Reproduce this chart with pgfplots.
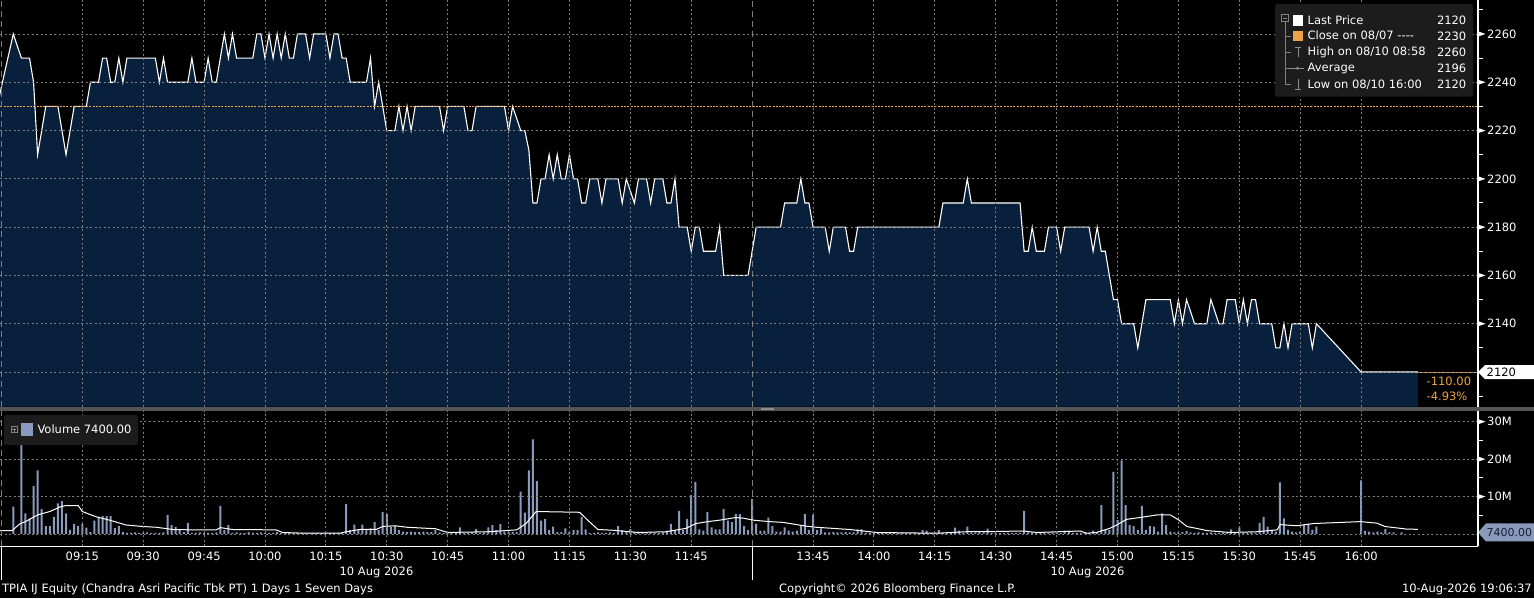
\documentclass[border=0pt]{standalone}
\usepackage{pgfplots}
\usepackage{pgfplotstable}
\pgfplotsset{compat=1.18}
\usepackage{fontspec}
\setmainfont{DejaVu Sans}

\definecolor{bbnavy}{RGB}{9,32,60}
\definecolor{bbgrid}{RGB}{125,125,125}
\definecolor{bbbar}{RGB}{138,154,188}
\definecolor{bborange}{RGB}{240,160,70}
\definecolor{bblegend}{RGB}{28,28,28}
\definecolor{bbsep}{RGB}{85,85,85}
\definecolor{bbdark}{RGB}{20,30,50}

\newcommand{\bbfont}{\fontsize{11.5}{13}\selectfont}
\newcommand{\hy}{-\kern0pt}

% price, one point per minute of trading (afternoon shifted back by the 90 min lunch break)
\pgfplotstableread{
m p
-6 2230
-2 2260
0 2250
2 2250
3 2240
4 2210
6 2230
9 2230
11 2210
13 2230
16 2230
17 2240
19 2240
20 2250
21 2250
22 2240
23 2240
24 2250
25 2240
26 2250
33 2250
34 2240
35 2250
36 2240
41 2240
42 2250
43 2240
45 2240
46 2250
47 2240
48 2240
50 2260
51 2250
52 2260
53 2250
57 2250
58 2260
59 2260
60 2250
61 2260
62 2250
63 2260
64 2250
65 2260
66 2250
67 2250
68 2260
70 2260
71 2250
72 2260
75 2260
76 2250
77 2260
78 2260
79 2250
80 2250
81 2240
85 2240
86 2250
87 2230
88 2240
90 2220
92 2220
93 2230
94 2220
95 2230
96 2220
97 2230
103 2230
104 2220
105 2230
109 2230
110 2220
111 2220
112 2230
119 2230
120 2220
121 2230
123 2220
124 2220
125 2212
126 2190
127 2190
128 2200
129 2200
130 2210
131 2200
132 2210
133 2200
134 2200
135 2210
136 2200
137 2200
138 2190
139 2190
140 2200
142 2200
143 2190
144 2200
147 2200
148 2190
149 2200
151 2190
152 2200
154 2200
155 2190
156 2200
158 2200
159 2190
160 2190
161 2200
162 2180
164 2180
165 2170
166 2180
167 2180
168 2170
171 2170
172 2180
173 2160
179 2160
181 2180
187 2180
188 2190
191 2190
192 2200
193 2190
194 2190
195 2180
198 2180
199 2170
200 2180
203 2180
204 2170
205 2170
206 2180
226 2180
227 2190
232 2190
233 2200
234 2190
246 2190
247 2170
248 2170
249 2180
250 2170
252 2170
253 2180
255 2180
256 2170
257 2180
263 2180
264 2170
265 2180
266 2170
267 2170
269 2150
270 2150
271 2140
274 2140
275 2130
277 2150
283 2150
284 2140
285 2150
286 2140
287 2150
289 2140
292 2140
293 2150
295 2140
296 2140
297 2150
299 2150
300 2140
301 2150
302 2140
303 2150
304 2150
305 2140
308 2140
309 2130
310 2130
311 2140
312 2130
313 2140
317 2140
318 2130
319 2140
330 2120
344 2120
}\pricedata

% volume per minute, millions
\pgfplotstableread{
m v
-2 7.3
0 30.0
1 5.5
2 4.2
3 12.8
4 17.0
5 6.7
6 2.1
7 2.1
8 4.6
9 8.2
10 8.8
11 5.5
12 1.1
13 2.7
14 2.1
15 2.7
16 1.7
17 0.5
18 3.6
19 4.6
20 4.8
21 4.8
22 4.8
23 1.6
24 2.1
25 0.5
26 0.3
27 0.3
28 0.4
29 0.3
30 0.3
31 0.4
32 0.3
33 0.3
34 0.3
35 0.4
36 5.1
37 2.4
38 1.9
39 1.0
40 0.5
41 3.0
42 0.3
43 0.3
44 0.4
45 0.3
46 0.3
47 0.3
48 0.4
49 7.5
50 1.0
51 2.4
52 0.3
53 0.4
54 0.3
55 0.3
56 0.5
57 0.3
58 0.3
59 0.4
60 0.3
61 0.3
62 0.3
63 0.5
64 0.3
65 0.2
66 0.3
67 0.3
68 0.2
69 0.3
70 0.2
71 0.2
72 0.3
73 0.2
74 0.2
75 0.3
76 0.2
77 0.3
78 0.3
79 0.3
80 8.0
81 1.0
82 2.5
83 1.0
84 2.5
85 1.0
86 1.5
87 3.2
88 1.0
89 5.9
90 5.4
91 1.9
92 2.2
93 1.0
94 0.6
95 0.5
96 0.6
97 0.5
98 0.5
99 0.6
100 0.5
101 0.5
102 1.0
103 0.4
104 0.3
105 0.3
106 0.3
107 0.4
108 1.8
109 0.3
110 0.3
111 0.4
112 1.3
113 0.3
114 0.4
115 1.8
116 2.4
117 1.0
118 2.7
119 0.6
120 0.5
121 0.5
122 0.5
123 11.3
124 5.7
125 17.0
126 25.3
127 14.1
128 3.6
129 4.0
130 1.0
131 2.0
132 0.5
133 0.5
134 1.5
135 0.5
136 1.0
137 1.0
138 4.6
139 1.2
140 0.3
141 0.3
142 0.4
143 0.3
144 0.3
145 0.4
146 0.3
147 2.1
148 1.0
149 0.6
150 1.3
151 0.5
152 0.3
153 0.3
154 0.3
155 0.4
156 0.3
157 0.3
158 0.4
159 0.9
160 2.7
161 1.0
162 6.2
163 1.0
164 4.0
165 10.4
166 13.9
167 1.2
168 0.9
169 5.9
170 1.8
171 1.2
172 1.2
173 6.7
174 3.6
175 3.2
176 5.3
177 5.3
178 2.1
179 1.0
180 9.3
181 2.7
182 0.9
183 0.9
184 4.4
185 2.1
186 0.6
187 0.6
188 1.8
189 0.9
190 0.6
191 0.9
192 2.1
193 5.3
194 1.0
195 5.1
196 1.0
197 1.5
198 0.4
199 0.4
200 0.5
201 0.4
202 0.4
203 0.5
204 0.4
205 0.4
206 1.2
207 1.2
208 0.3
209 0.3
210 0.4
211 0.3
212 0.3
213 0.3
214 0.2
215 0.3
216 0.3
217 0.4
218 0.3
219 0.3
220 0.3
221 0.3
222 1.0
223 0.9
224 0.3
225 0.3
226 1.0
227 0.3
228 0.3
229 0.3
230 1.7
231 0.9
232 0.3
233 2.0
234 0.4
235 0.4
236 0.5
237 0.4
238 1.4
239 0.3
240 0.3
241 0.3
242 0.3
243 0.3
244 0.3
245 0.3
246 0.3
247 6.2
248 0.4
249 0.4
250 0.4
251 0.3
252 0.4
253 0.3
254 0.4
255 0.4
256 0.3
257 0.9
258 0.9
259 0.3
260 0.3
261 0.3
262 0.2
263 0.3
264 0.9
265 0.4
266 7.7
267 1.0
268 1.0
269 16.6
270 3.7
271 19.7
272 7.7
273 2.4
274 2.1
275 1.0
276 7.5
277 1.1
278 2.1
279 2.0
280 0.6
281 5.5
282 2.4
283 0.6
284 0.4
285 0.4
286 0.5
287 0.8
288 0.4
289 0.3
290 0.4
291 0.3
292 0.3
293 0.4
294 0.3
295 0.3
296 0.4
297 0.3
298 1.2
299 0.3
300 1.8
301 0.3
302 0.3
303 0.4
304 0.3
305 3.0
306 4.6
307 2.0
308 1.1
309 0.6
310 13.8
311 4.2
312 1.1
313 0.6
314 0.4
315 0.6
316 2.4
317 2.7
318 1.1
319 2.0
330 14.3
331 0.8
332 0.6
333 0.4
334 0.6
335 0.4
336 1.3
337 0.4
338 0.4
340 0.4
}\voldata

% average volume line, millions
\pgfplotstableread{
m a
-5.3 0.9
-2.3 0.9
-0.4 2.7
1 3.3
4 5.1
7 6.0
9.7 7.3
11 7.6
14 7.6
15 6.0
18.4 4.6
21.7 3.7
25.8 2.4
29.9 2.0
33.2 1.8
37.3 1.2
42.2 1.1
48 1.1
49 1.7
52 1.2
62.7 1.1
64.4 0.4
70 0.2
78.4 0.2
80 0.6
83.3 1.2
87.4 1.2
89 2.0
92 2.2
95 1.8
102 1.4
105 0.4
115 0.6
122 1.1
124.3 2.8
126.8 6.0
137.5 5.8
139.5 3.7
142 1.2
145.7 1.0
152 0.4
158.8 0.6
163.7 1.5
166.2 2.8
169.1 3.3
172 3.7
176 4.4
178 4.2
180.2 3.7
184.3 3.3
187.6 3.1
193.3 2.1
195.8 1.8
204 1.2
210.6 0.4
225.4 0.2
232.8 0.6
236.9 0.6
246.8 0.8
250.1 0.4
260.8 0.8
262.4 0.2
264.8 0.4
268.1 1.5
269.8 2.4
272.2 3.9
275.5 4.4
278 4.8
279.7 5.1
283 5.1
285 3.8
287.1 2.0
290.4 1.3
292 0.9
297.8 0.4
304.3 0.6
309.3 1.1
310.1 2.5
314.2 2.2
318.3 2.8
329.8 3.3
333.9 2.9
335.9 2.0
341.3 1.3
344 1.25
}\avgdata

\pgfplotsset{
  bbpanel/.style={
    scale only axis, anchor=south west, width=1478pt,
    xmin=-5.27, xmax=358.8,
    axis line style={draw=none}, tick style={draw=none},
    xtick={15,30,45,60,75,90,105,120,135,150,165,195,210,225,240,255,270,285,300,315,330},
    yticklabels={},
    grid=major,
    major grid style={bbgrid, line width=0.9pt, dash pattern=on 2pt off 2.5pt},
    extra x ticks={-5,180}, extra x tick labels={},
    extra x tick style={grid=major, major grid style={bbgrid, line width=1pt, dash pattern=on 6pt off 4pt}},
    axis on top, clip mode=individual,
  },
}

\begin{document}
\begin{tikzpicture}[x=1pt, y=1pt, font=\bbfont]
\fill[black] (0,0) rectangle (1534,598);
\useasboundingbox (0,0) rectangle (1534,598);

% price panel
\begin{axis}[bbpanel,
  at={(0pt,191.3pt)}, height=406.7pt,
  ymin=2105.64, ymax=2274.07,
  ytick={2120,2140,...,2260}, xticklabels={},
]
\addplot[fill=bbnavy, draw=none] table[x=m, y=p]{\pricedata} \closedcycle;
\addplot[white, line width=1.1pt] table[x=m, y=p]{\pricedata};
\addplot[bborange, line width=1.6pt, dash pattern=on 2pt off 1.3pt] coordinates {(-6,2230) (359,2230)};
\addplot[bborange, line width=1pt] coordinates {(344,2120) (359,2120)};
\pgfplotsinvokeforeach{2140,2160,...,2260}{
  \fill[white] ([yshift=2.6pt]axis cs:358.8,#1) -- ([xshift=7.5pt]axis cs:358.8,#1) -- ([yshift=-2.6pt]axis cs:358.8,#1) -- cycle;
  \node[anchor=west, inner sep=0pt, white] at ([xshift=9pt]axis cs:358.8,#1) {#1};
}
\pgfplotsinvokeforeach{2110,2130,...,2270}{
  \draw[white, line width=1pt] (axis cs:358.8,#1) -- ++(5pt,0pt);
}
\fill[white] (axis cs:358.8,2120) -- ++(7pt,7pt) -- ++(49pt,0pt) -- ++(0pt,-14pt) -- ++(-49pt,0pt) -- cycle;
\node[anchor=west, inner sep=0pt, black] at ([xshift=8.5pt]axis cs:358.8,2120) {2120};
\node[anchor=west, inner sep=0pt, bborange] at ([xshift=-51.5pt, yshift=-9pt]axis cs:358.8,2120) {-110.00};
\node[anchor=west, inner sep=0pt, bborange] at ([xshift=-51.5pt, yshift=-24.5pt]axis cs:358.8,2120) {-4.93\%};
\end{axis}

% volume panel
\begin{axis}[bbpanel,
  at={(0pt,51.7pt)}, height=135.6pt,
  ymin=-3.29, ymax=32.94,
  ytick={0,10,20,30},
  xticklabels={09:15,09:30,09:45,10:00,10:15,10:30,10:45,11:00,11:15,11:30,11:45,13:45,14:00,14:15,14:30,14:45,15:00,15:15,15:30,15:45,16:00},
  xticklabel style={text=white, font=\bbfont, yshift=-2.5pt},
]
\addplot[ybar, bar width=2pt, fill=bbbar, draw=none] table[x=m, y=v]{\voldata};
\addplot[white, line width=1pt] table[x=m, y=a]{\avgdata};
\pgfplotsinvokeforeach{10,20,30}{
  \fill[white] ([yshift=2.6pt]axis cs:358.8,#1) -- ([xshift=7.5pt]axis cs:358.8,#1) -- ([yshift=-2.6pt]axis cs:358.8,#1) -- cycle;
  \node[anchor=west, inner sep=0pt, white] at ([xshift=9pt]axis cs:358.8,#1) {#1M};
}
\pgfplotsinvokeforeach{5,15,25}{
  \draw[white, line width=1pt] (axis cs:358.8,#1) -- ++(5pt,0pt);
}
\fill[bbbar] ([yshift=1.5pt]axis cs:358.8,0) -- ++(8pt,9pt) -- ++(48pt,0pt) -- ++(0pt,-18pt) -- ++(-48pt,0pt) -- cycle;
\node[anchor=west, inner sep=0pt, bbdark, font=\fontsize{11}{13}\selectfont] at ([xshift=8.5pt, yshift=1.5pt]axis cs:358.8,0) {7400.00};
\end{axis}

% frame lines and panel separator
\draw[white, line width=1.2pt] (0,51.7) -- (1478,51.7);
\draw[white, line width=1.2pt] (1478,51.7) -- (1478,598);
\fill[bbsep] (0,187.3) rectangle (1534,191.3);
\draw[gray!90, line width=0.7pt] (761,190) -- (774,190) (761,188.2) -- (774,188.2);
\draw[white, line width=1pt] (1.7,51.7) -- (1.7,18.5) (752.3,51.7) -- (752.3,18.5);

% date labels and footer
\node[white, inner sep=0pt] at (376.5,25.5) {10 Aug 2026};
\node[white, inner sep=0pt] at (1087.5,25.5) {10 Aug 2026};
\node[white, anchor=west, inner sep=0pt] at (2,9) {TPIA IJ Equity (Chandra Asri Pacific Tbk PT) 1 Days 1 Seven Days};
\node[white, anchor=west, inner sep=0pt] at (779,9) {Copyright© 2026 Bloomberg Finance L.P.};
\node[white, anchor=east, inner sep=0pt] at (1532,9) {10-Aug-2026 19:06:37};

% price legend
\fill[bblegend, rounded corners=2pt] (1275,594) rectangle (1473,501.3);
\draw[gray, line width=0.7pt] (1281.5,576.2) rectangle (1288.5,583.2) (1283,579.7) -- (1287,579.7);
\draw[gray, line width=0.7pt] (1285,576.2) -- (1285,513.7)
  (1285,562) -- (1291,562) (1285,545.7) -- (1291,545.7) (1285,529.7) -- (1291,529.7) (1285,513.7) -- (1291,513.7);
\fill[white] (1292.7,572) rectangle (1303.3,582.6);
\fill[bborange] (1292.7,556.7) rectangle (1303.3,567.3);
\draw[gray!90, line width=0.8pt] (1295,551) -- (1301,551) (1298,551) -- (1298,541);
\draw[gray!90, line width=0.8pt] (1291,529.7) -- (1304,529.7);
\fill[gray!90] (1297.5,529.7) circle (1.6pt);
\draw[gray!90, line width=0.8pt] (1298,519) -- (1298,509) (1295,509) -- (1301,509);
\foreach \y/\lab/\val in {577.3/Last Price/2120, 562/Close on 08\slash 07 \hy\hy\hy\hy/2230, 545.7/High on 08\slash 10 08:58/2260, 529.7/Average/2196, 513.7/Low on 08\slash 10 16:00/2120} {
  \node[anchor=west, inner sep=0pt, white] at (1307.5,\y) {\lab};
  \node[anchor=east, inner sep=0pt, white] at (1466.5,\y) {\val};
}

% volume legend
\fill[bblegend, rounded corners=2pt] (4,183) rectangle (138,153);
\draw[gray, line width=0.7pt] (11.2,165.5) rectangle (17.2,171.5) (12.2,168.5) -- (16.2,168.5) (14.2,166.5) -- (14.2,170.5);
\fill[bbbar] (21,162) rectangle (33.3,174.7);
\node[anchor=west, inner sep=0pt, white] at (37.3,168.5) {Volume 7400.00};
\end{tikzpicture}
\end{document}
